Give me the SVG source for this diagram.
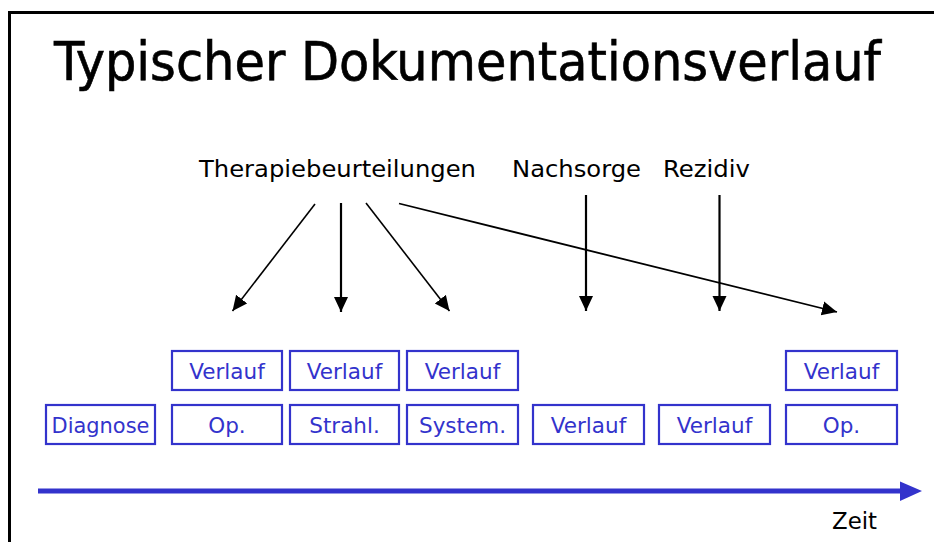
<svg xmlns="http://www.w3.org/2000/svg" width="934" height="542" viewBox="0 0 934 542">
<style>
.frame{fill:none;stroke:#000;stroke-width:3}
.box rect{fill:#fff;stroke:#3333cc;stroke-width:2.2}
.box text{font-family:"DejaVu Sans",Verdana,sans-serif;font-size:21.5px;fill:#3333cc;text-anchor:middle}
.lbl{font-family:"DejaVu Sans",Verdana,sans-serif;font-size:23px;fill:#000}
.title{font-family:"DejaVu Sans Condensed","DejaVu Sans",sans-serif;font-size:54px;fill:#000;stroke:#000;stroke-width:0.6}
.conn line{stroke:#000;fill:none}
</style>
<defs>
<marker id="ah" markerUnits="userSpaceOnUse" markerWidth="16" markerHeight="16" viewBox="0 0 16 16" refX="15" refY="7.5" orient="auto">
<path d="M0,0.5 L15,7.5 L0,14.5 Z" fill="#000"/>
</marker>
</defs>
<rect class="frame" x="9.5" y="12.5" width="940" height="540"/>
<text class="title" x="54" y="80" textLength="827" lengthAdjust="spacingAndGlyphs">Typischer Dokumentationsverlauf</text>
<g id="lbl-therapie"><text class="lbl" x="199" y="177" textLength="277" lengthAdjust="spacingAndGlyphs">Therapiebeurteilungen</text></g>
<g id="lbl-nachsorge"><text class="lbl" x="512" y="177" textLength="129" lengthAdjust="spacingAndGlyphs">Nachsorge</text></g>
<g id="lbl-rezidiv"><text class="lbl" x="663" y="177" textLength="87" lengthAdjust="spacingAndGlyphs">Rezidiv</text></g>
<g class="conn" id="connectors">
<line x1="315" y1="204" x2="232.5" y2="311" stroke-width="1.6" marker-end="url(#ah)"/>
<line x1="341" y1="203" x2="341" y2="312" stroke-width="2.2" marker-end="url(#ah)"/>
<line x1="366" y1="203" x2="449.5" y2="311" stroke-width="1.6" marker-end="url(#ah)"/>
<line x1="399" y1="203.5" x2="837" y2="312" stroke-width="1.8" marker-end="url(#ah)"/>
<line x1="586" y1="195" x2="586" y2="311" stroke-width="2.2" marker-end="url(#ah)"/>
<line x1="719.5" y1="195" x2="719.5" y2="311" stroke-width="2.2" marker-end="url(#ah)"/>
</g>
<g id="b-verlauf1" class="box"><rect x="172" y="351" width="110" height="39"/><text x="227" y="379">Verlauf</text></g>
<g id="b-verlauf2" class="box"><rect x="290" y="351" width="109" height="39"/><text x="344.5" y="379">Verlauf</text></g>
<g id="b-verlauf3" class="box"><rect x="407" y="351" width="111" height="39"/><text x="462.5" y="379">Verlauf</text></g>
<g id="b-verlauf4" class="box"><rect x="786" y="351" width="111" height="39"/><text x="841.5" y="379">Verlauf</text></g>
<g id="b-diagnose" class="box"><rect x="46" y="405" width="109" height="39"/><text x="100.5" y="433" textLength="98" lengthAdjust="spacingAndGlyphs">Diagnose</text></g>
<g id="b-op1" class="box"><rect x="172" y="405" width="110" height="39"/><text x="227" y="433">Op.</text></g>
<g id="b-strahl" class="box"><rect x="290" y="405" width="109" height="39"/><text x="344.5" y="433">Strahl.</text></g>
<g id="b-system" class="box"><rect x="407" y="405" width="111" height="39"/><text x="462.5" y="433">System.</text></g>
<g id="b-nachsorge" class="box"><rect x="533" y="405" width="111" height="39"/><text x="588.5" y="433">Verlauf</text></g>
<g id="b-rezidiv" class="box"><rect x="659" y="405" width="111" height="39"/><text x="714.5" y="433">Verlauf</text></g>
<g id="b-op2" class="box"><rect x="786" y="405" width="111" height="39"/><text x="841.5" y="433">Op.</text></g>
<g id="axis">
<line x1="38" y1="491" x2="902" y2="491" stroke="#3333cc" stroke-width="5"/>
<path d="M900,481.5 L922,491 L900,501 Z" fill="#3333cc"/>
<text class="lbl" x="832" y="529" textLength="45" lengthAdjust="spacingAndGlyphs">Zeit</text>
</g>
</svg>
